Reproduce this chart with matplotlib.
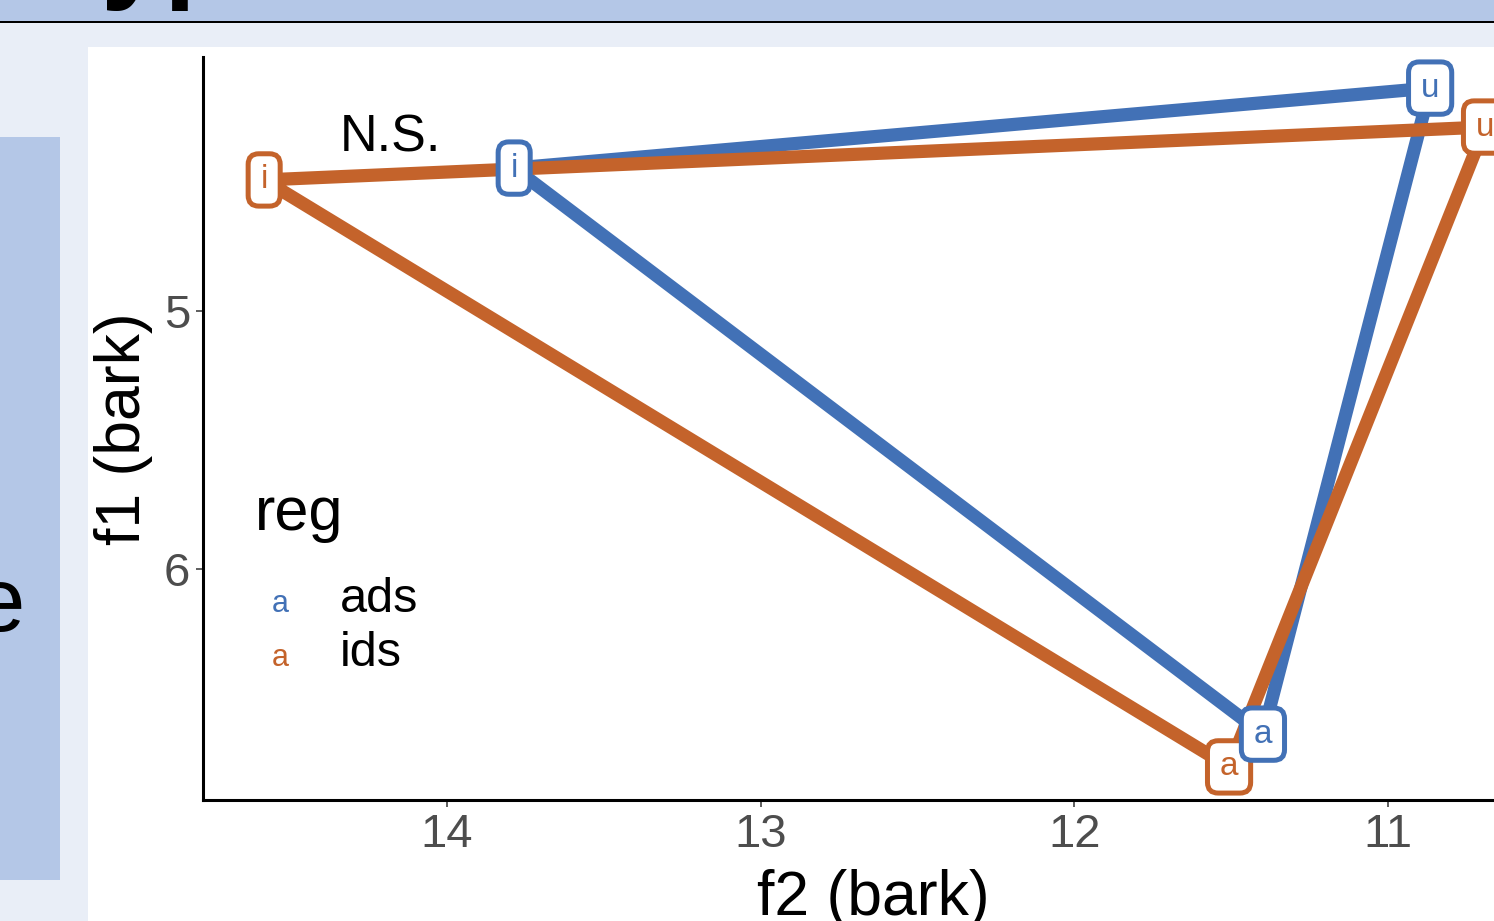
import matplotlib.pyplot as plt
from matplotlib.patches import Rectangle, BoxStyle

plt.rcParams['font.family'] = ['Liberation Sans', 'DejaVu Sans']

# vowel triangle, f2 / f1 in bark
vowels = ["i", "u", "a"]
regs = ["ads", "ids"]
f2_ads = [13.786, 10.866, 11.399]
f1_ads = [4.446, 4.136, 6.640]
f2_ids = [14.583, 10.691, 11.507]
f1_ids = [4.492, 4.287, 6.767]
colors = {"ads": "#4271b6", "ids": "#c4632b"}
xticks = [14, 13, 12, 11]
yticks = [5, 6]

W, H = 1494, 921
fig = plt.figure(figsize=(W / 100, H / 100), dpi=100)
fig.patch.set_facecolor("#e9eef7")

def px(x0, y0, x1, y1):
    # pixel box (top-left origin) -> figure fraction rect
    return (x0 / W, 1 - y1 / H, (x1 - x0) / W, (y1 - y0) / H)

# slide decoration behind the chart
for (x0, y0, x1, y1), c in [((0, 0, W, 21), "#b4c7e7"),
                            ((0, 21, W, 23), "black"),
                            ((0, 137, 60, 880), "#b4c7e7"),
                            ((88, 47, W, H), "white")]:
    r = px(x0, y0, x1, y1)
    fig.patches.append(Rectangle(r[:2], r[2], r[3], transform=fig.transFigure,
                                 facecolor=c, edgecolor="none", zorder=-5))
fig.text(100 / W, 1 + 13 / H, "yp", fontsize=83, fontweight="bold",
         va="baseline", ha="left")
fig.text(-26 / W, 1 - 631 / H, "e", fontsize=65, va="baseline", ha="left")

ax = fig.add_axes(px(203, 57, W, 800))
ax.set_facecolor("none")
ax.set_xlim(14.778, 10.6624)
ax.set_ylim(6.8953, 4.0155)

# ggplot-like label box: a little wider than the text's own bbox
_round = BoxStyle("round", pad=0.32, rounding_size=0.32)
def label_box(x0, y0, width, height, mutation_size):
    extra = 0.05 * mutation_size
    return _round(x0 - extra, y0, width + 2 * extra, height, mutation_size)

data = {"ads": (f2_ads, f1_ads), "ids": (f2_ids, f1_ids)}
for k, reg in enumerate(regs):
    xs, ys = data[reg]
    ax.plot(xs + xs[:1], ys + ys[:1], color=colors[reg], lw=9.5,
            solid_capstyle="butt", solid_joinstyle="round", zorder=2 + k,
            clip_on=False)
for k, reg in enumerate(reversed(regs)):
    xs, ys = data[reg]
    for v, x, y in zip(vowels, xs, ys):
        ax.text(x, y, v, color=colors[reg], fontsize=24, ha="center",
                va="center", zorder=5 + k, clip_on=False,
                bbox=dict(boxstyle=label_box, facecolor="white",
                          edgecolor=colors[reg], lw=3.6))

ax.set_xticks(xticks)
ax.set_yticks(yticks)
for s in ["top", "right"]:
    ax.spines[s].set_visible(False)
for s in ["left", "bottom"]:
    ax.spines[s].set_linewidth(2.2)
ax.tick_params(axis="both", length=5, width=1.1, color="#333333",
               labelsize=34, labelcolor="#4d4d4d", pad=4)

ax.set_xlabel("f2 (bark)", fontsize=45)
ax.xaxis.set_label_coords((873 - 203) / 1291, (800 - 869) / 743)
ax.set_ylabel("f1 (bark)", fontsize=45)
ax.yaxis.set_label_coords((153 - 203) / 1291, (800 - 429) / 743)

fig.text(340 / W, 1 - 152 / H, "N.S.", fontsize=37.5, va="baseline")

# legend
fig.text(255 / W, 1 - 530 / H, "reg", fontsize=44, va="baseline")
for k, reg in enumerate(regs):
    yb = 1 - (612 + 54 * k) / H
    fig.text(280 / W, yb, "a", color=colors[reg], fontsize=22,
             ha="center", va="baseline")
    fig.text(340 / W, yb, reg, fontsize=35, va="baseline")

fig.savefig("out.png", dpi=100, facecolor=fig.get_facecolor())
